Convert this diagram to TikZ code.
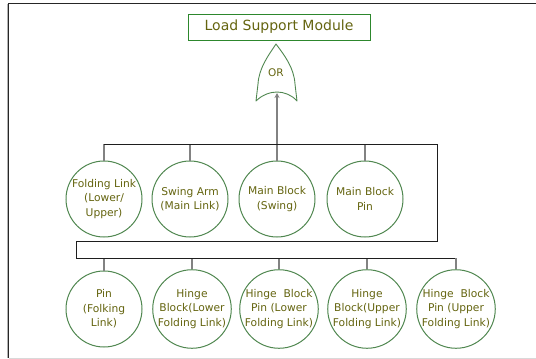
\documentclass[tikz,border=0pt]{standalone}
\usepackage{fontspec}
\setmainfont{DejaVu Sans}
\usetikzlibrary{arrows.meta}
\definecolor{txtolive}{RGB}{100,100,15}
\definecolor{circgreen}{RGB}{80,135,80}
\definecolor{boxgreen}{RGB}{45,135,45}
\definecolor{busgray}{RGB}{30,30,30}
\definecolor{dropgray}{RGB}{130,130,130}
\tikzset{
  part/.style={circle, draw=circgreen, line width=1pt, minimum size=76pt, inner sep=0pt,
    align=center, text=txtolive, font=\fontsize{10.7}{14.5}\selectfont},
  titlebox/.style={draw=boxgreen, line width=1pt, minimum width=182pt, minimum height=26pt,
    inner sep=0pt, text=txtolive, font=\fontsize{14}{16}\selectfont},
  gatelabel/.style={text=txtolive, font=\fontsize{10.5}{12}\selectfont, inner sep=0pt},
  bus/.style={draw=busgray, line width=0.8pt},
  drop/.style={draw=dropgray, line width=1.2pt},
  gate/.style={draw=circgreen, line width=0.9pt, line join=round},
}
\begin{document}
\begin{tikzpicture}[x=1pt,y=-1pt]
\useasboundingbox (0,0) rectangle (536,359);
% frame
\coordinate (fTL) at (8.5,3.5);
\coordinate (fTR) at (536,3.5);
\coordinate (fBL) at (8.5,358);
\coordinate (fBR) at (536,358);
\draw[line width=1pt, black!85] (fBL) -- (fTL) -- (fTR);
\draw[line width=0.8pt, black!15] (fBL) -- (fBR);
\draw[line width=0.6pt, black!30] ([xshift=-1.2pt]fTL) -- ([xshift=-1.2pt]fBL);
% title
\node[titlebox] (title) at (279,27) {Load Support Module};
% OR gate
\draw[gate] (276,44) .. controls (268,56) and (259,68) .. (258,84) -- (256,101)
  .. controls (262,95) and (270,92) .. (277,92)
  .. controls (284,92) and (292,95) .. (297,101) -- (295,84)
  .. controls (294,68) and (285,56) .. (276,44) -- cycle;
\node[gatelabel] (orlabel) at (276,73) {OR};
\coordinate (orin) at (277,93);
% bus
\coordinate (b1L) at (104,144);
\coordinate (b1C) at (277,144);
\coordinate (b1R) at (437,144);
\coordinate (b2R) at (437,241);
\coordinate (b2L) at (76,241);
\coordinate (b3L) at (76,258);
\coordinate (b3R) at (455,258);
\draw[drop, -{Stealth[length=5pt,width=5pt]}] (b1C) -- (orin);
% top row
\node[part] (t1) at (104,199) {Folding Link\\(Lower/\\Upper)};
\node[part] (t2) at (190,199) {Swing Arm\\(Main Link)};
\node[part] (t3) at (277,199) {Main Block\\(Swing)};
\node[part] (t4) at (365,199) {Main Block\\Pin};
% bottom row
\node[part] (u1) at (104,309) {Pin\\(Folking\\Link)};
\node[part] (u2) at (192,309) {Hinge\\Block(Lower\\Folding Link)};
\node[part] (u3) at (279,309) {Hinge~~Block\\Pin (Lower\\Folding Link)};
\node[part] (u4) at (367,309) {Hinge\\Block(Upper\\Folding Link)};
\node[part] (u5) at (456,309) {Hinge~~Block\\Pin (Upper\\Folding Link)};
% drops
\foreach \n in {t1,t2,t3,t4} \draw[drop] (\n.north) -- (\n.north |- b1L);
\foreach \n in {u1,u2,u3,u4,u5} \draw[drop] (\n.north) -- (\n.north |- b3L);
\draw[bus] (b1L) -- (b1R) -- (b2R) -- (b2L) -- (b3L) -- (b3R);
\end{tikzpicture}
\end{document}
